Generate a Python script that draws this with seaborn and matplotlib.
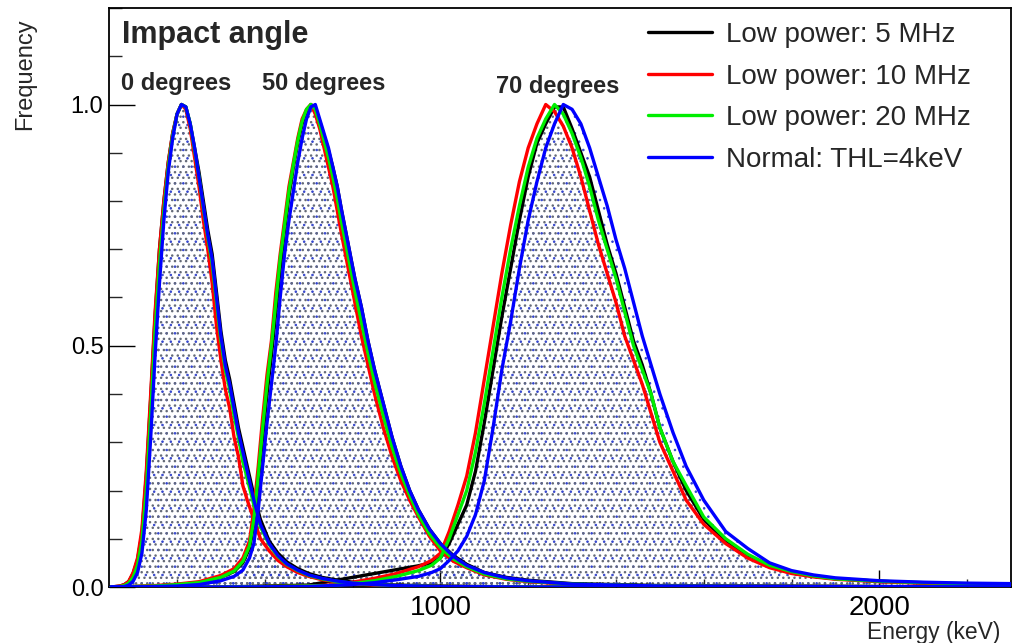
import numpy as np
import pandas as pd
import matplotlib
matplotlib.use("Agg")
import matplotlib.pyplot as plt
from matplotlib.ticker import MultipleLocator, FixedLocator
import seaborn as sns

# ---------------- data ----------------
settings = ["Low power: 5 MHz", "Low power: 10 MHz", "Low power: 20 MHz", "Normal: THL=4keV"]
colors = ["#000000", "#ff0000", "#00ee00", "#0000ff"]
angle_labels = ["0 degrees", "50 degrees", "70 degrees"]

# 0 degrees
energy_0 = [250, 270, 280, 290, 300, 310, 320, 330, 340, 350, 360, 370, 380, 390, 400, 410, 420, 430,
            440, 450, 460, 470, 480, 490, 500, 510, 520, 530, 540, 550, 560, 575, 590, 610, 630, 650,
            675, 700, 730, 760, 800, 850, 900, 1000, 1200, 1600, 2300]
freq_0_5MHz = [0, 0.002, 0.005, 0.011, 0.028, 0.056, 0.11, 0.23, 0.39, 0.56, 0.70, 0.80, 0.88, 0.94, 0.98, 1.0,
               0.995, 0.96, 0.91, 0.86, 0.80, 0.74, 0.69, 0.61, 0.53, 0.47, 0.43, 0.38, 0.33, 0.29, 0.25, 0.19,
               0.14, 0.095, 0.07, 0.052, 0.038, 0.028, 0.02, 0.015, 0.01, 0.006, 0.004, 0.002, 0.0, 0.0, 0.0]
freq_0_10MHz = [0, 0.002, 0.005, 0.012, 0.03, 0.06, 0.12, 0.24, 0.40, 0.57, 0.70, 0.80, 0.88, 0.94, 0.98, 1.0,
                0.99, 0.95, 0.89, 0.83, 0.76, 0.70, 0.63, 0.54, 0.47, 0.41, 0.37, 0.31, 0.27, 0.21, 0.18, 0.14,
                0.10, 0.075, 0.055, 0.042, 0.03, 0.022, 0.015, 0.011, 0.007, 0.004, 0.003, 0.001, 0.0, 0.0, 0.0]
freq_0_20MHz = [0, 0.001, 0.003, 0.008, 0.02, 0.045, 0.095, 0.20, 0.36, 0.53, 0.67, 0.78, 0.87, 0.935, 0.98, 1.0,
                0.995, 0.96, 0.905, 0.85, 0.785, 0.725, 0.67, 0.59, 0.51, 0.45, 0.41, 0.355, 0.31, 0.26, 0.225,
                0.17, 0.125, 0.088, 0.063, 0.047, 0.034, 0.024, 0.017, 0.012, 0.008, 0.005, 0.003, 0.001, 0, 0, 0]
freq_0_normal = [0, 0, 0.001, 0.004, 0.012, 0.03, 0.07, 0.16, 0.31, 0.48, 0.63, 0.76, 0.86, 0.93, 0.98, 1.0,
                 0.995, 0.96, 0.91, 0.85, 0.79, 0.73, 0.68, 0.60, 0.52, 0.46, 0.42, 0.37, 0.32, 0.28, 0.24, 0.18,
                 0.13, 0.09, 0.065, 0.048, 0.035, 0.025, 0.018, 0.013, 0.008, 0.005, 0.003, 0.001, 0.0, 0.0, 0.0]

# 50 degrees
energy_50 = [250, 300, 350, 400, 450, 500, 530, 550, 565, 575, 585, 595, 605, 615, 625, 635, 645, 655, 665,
             675, 685, 695, 705, 715, 725, 735, 745, 755, 765, 775, 790, 805, 820, 835, 850, 870, 890, 910,
             930, 950, 975, 1000, 1030, 1060, 1100, 1150, 1200, 1300, 1500, 2300]
freq_50_5MHz = [0, 0.001, 0.002, 0.005, 0.009, 0.02, 0.032, 0.05, 0.08, 0.13, 0.22, 0.31, 0.40, 0.48, 0.57,
                0.66, 0.74, 0.81, 0.87, 0.92, 0.96, 0.985, 1.0, 0.99, 0.965, 0.935, 0.905, 0.87, 0.83, 0.78,
                0.71, 0.64, 0.58, 0.51, 0.45, 0.38, 0.31, 0.25, 0.20, 0.16, 0.12, 0.09, 0.065, 0.047, 0.03,
                0.02, 0.014, 0.007, 0.003, 0]
freq_50_10MHz = [0, 0.001, 0.003, 0.006, 0.011, 0.024, 0.038, 0.06, 0.095, 0.16, 0.25, 0.35, 0.44, 0.51, 0.61,
                 0.69, 0.76, 0.83, 0.88, 0.93, 0.97, 0.99, 1.0, 0.98, 0.95, 0.91, 0.87, 0.83, 0.78, 0.73,
                 0.66, 0.59, 0.52, 0.46, 0.40, 0.33, 0.27, 0.22, 0.18, 0.145, 0.105, 0.075, 0.053, 0.04,
                 0.025, 0.016, 0.011, 0.005, 0.002, 0]
freq_50_20MHz = [0, 0.001, 0.002, 0.005, 0.009, 0.02, 0.033, 0.053, 0.085, 0.14, 0.23, 0.33, 0.42, 0.50, 0.59,
                 0.68, 0.75, 0.82, 0.875, 0.925, 0.965, 0.99, 1.0, 0.99, 0.96, 0.925, 0.89, 0.85, 0.805, 0.755,
                 0.685, 0.615, 0.55, 0.485, 0.425, 0.355, 0.29, 0.235, 0.19, 0.15, 0.11, 0.082, 0.058, 0.042,
                 0.027, 0.017, 0.012, 0.006, 0.002, 0]
freq_50_normal = [0, 0, 0.001, 0.002, 0.005, 0.013, 0.022, 0.035, 0.06, 0.09, 0.16, 0.25, 0.34, 0.42, 0.50,
                  0.60, 0.69, 0.76, 0.82, 0.88, 0.93, 0.97, 0.995, 1.0, 0.97, 0.94, 0.91, 0.87, 0.83, 0.78,
                  0.71, 0.64, 0.58, 0.51, 0.45, 0.38, 0.31, 0.25, 0.20, 0.16, 0.12, 0.09, 0.063, 0.045, 0.03,
                  0.019, 0.013, 0.006, 0.002, 0]

# 70 degrees
energy_70 = [250, 500, 700, 750, 800, 850, 900, 950, 980, 1000, 1020, 1040, 1060, 1080, 1100, 1120, 1140,
             1160, 1180, 1200, 1220, 1240, 1260, 1280, 1300, 1320, 1340, 1360, 1380, 1400, 1420, 1440, 1460,
             1480, 1500, 1530, 1560, 1600, 1650, 1700, 1750, 1800, 1850, 1900, 2000, 2100, 2200, 2300]
freq_70_5MHz = [0, 0, 0.004, 0.012, 0.02, 0.028, 0.036, 0.044, 0.05, 0.06, 0.09, 0.13, 0.17, 0.24, 0.34, 0.45,
                0.56, 0.66, 0.76, 0.85, 0.92, 0.96, 0.995, 0.995, 0.95, 0.90, 0.85, 0.78, 0.71, 0.65, 0.58,
                0.51, 0.46, 0.40, 0.33, 0.26, 0.20, 0.14, 0.095, 0.065, 0.044, 0.031, 0.022, 0.017, 0.012,
                0.008, 0.006, 0.005]
freq_70_10MHz = [0, 0, 0.002, 0.004, 0.01, 0.018, 0.028, 0.042, 0.055, 0.07, 0.115, 0.17, 0.23, 0.32, 0.43,
                 0.54, 0.65, 0.75, 0.84, 0.91, 0.96, 1.0, 0.985, 0.955, 0.91, 0.85, 0.78, 0.71, 0.65, 0.59,
                 0.52, 0.47, 0.42, 0.36, 0.30, 0.24, 0.18, 0.13, 0.09, 0.06, 0.04, 0.028, 0.021, 0.016, 0.011,
                 0.008, 0.006, 0.005]
freq_70_20MHz = [0, 0, 0.002, 0.003, 0.007, 0.013, 0.022, 0.034, 0.045, 0.06, 0.10, 0.15, 0.20, 0.28, 0.38,
                 0.49, 0.60, 0.70, 0.79, 0.87, 0.93, 0.97, 1.0, 0.98, 0.94, 0.89, 0.83, 0.76, 0.70, 0.64,
                 0.57, 0.50, 0.45, 0.40, 0.33, 0.26, 0.21, 0.145, 0.10, 0.068, 0.045, 0.032, 0.023, 0.017,
                 0.012, 0.009, 0.007, 0.005]
freq_70_normal = [0, 0, 0.001, 0.003, 0.005, 0.009, 0.015, 0.022, 0.03, 0.038, 0.055, 0.075, 0.105, 0.15, 0.22,
                  0.33, 0.45, 0.55, 0.66, 0.76, 0.84, 0.91, 0.96, 1.0, 0.99, 0.96, 0.91, 0.85, 0.79, 0.72,
                  0.66, 0.59, 0.52, 0.46, 0.40, 0.32, 0.25, 0.18, 0.115, 0.08, 0.05, 0.034, 0.025, 0.019,
                  0.013, 0.01, 0.008, 0.007]

x_ticks = [1000, 2000]
x_tick_labels = ["1000", "2000"]
y_ticks = [0.0, 0.5, 1.0]
y_tick_labels = ["0.0", "0.5", "1.0"]

# ---------------- tidy table ----------------
energies = {"0 degrees": energy_0, "50 degrees": energy_50, "70 degrees": energy_70}
freqs = {
    "0 degrees": [freq_0_5MHz, freq_0_10MHz, freq_0_20MHz, freq_0_normal],
    "50 degrees": [freq_50_5MHz, freq_50_10MHz, freq_50_20MHz, freq_50_normal],
    "70 degrees": [freq_70_5MHz, freq_70_10MHz, freq_70_20MHz, freq_70_normal],
}
rows = []
for ang in angle_labels:
    for s, f in zip(settings, freqs[ang]):
        for e, v in zip(energies[ang], f):
            rows.append({"energy": e, "freq": v, "setting": s, "angle": ang})
df = pd.DataFrame(rows)

# ---------------- style ----------------
sns.set_theme(style="white")
plt.rcParams["font.family"] = ["Liberation Sans", "DejaVu Sans"]

fig = plt.figure(figsize=(10.2, 6.43), dpi=100)
ax = fig.add_axes([109 / 1020, 56 / 643, 902 / 1020, 579 / 643])

# dotted fill under the curves
for ang in angle_labels:
    plt.rcParams["hatch.linewidth"] = 0.6
    ax.fill_between(energies[ang], 0, freqs[ang][3], facecolor="none", edgecolor="#3344cc",
                    hatch="..", linewidth=0, zorder=1)
    plt.rcParams["hatch.linewidth"] = 1.0
    ax.fill_between(energies[ang], 0, freqs[ang][0], facecolor="none", edgecolor="#646a78",
                    hatch="...", linewidth=0, zorder=1)

sns.lineplot(data=df, x="energy", y="freq", hue="setting", hue_order=settings, units="angle",
             estimator=None, palette=dict(zip(settings, colors)), linewidth=2.4, ax=ax, zorder=3)

ax.set_xlim(245, 2300)
ax.set_ylim(0, 1.2)
ax.set_xlabel("")
ax.set_ylabel("")

ax.xaxis.set_major_locator(FixedLocator(x_ticks))
ax.set_xticklabels(x_tick_labels)
ax.xaxis.set_minor_locator(MultipleLocator(200))
ax.yaxis.set_major_locator(FixedLocator(y_ticks))
ax.set_yticklabels(y_tick_labels)
ax.yaxis.set_minor_locator(MultipleLocator(0.1))

ax.tick_params(axis="x", which="major", direction="in", length=12, width=1.0, labelsize=20,
               pad=6, color="black", labelcolor="black", bottom=True, top=False)
ax.tick_params(axis="x", which="minor", direction="in", length=6, width=1.0, bottom=True, top=False)
ax.tick_params(axis="y", which="major", direction="in", length=19, width=1.0, labelsize=17,
               pad=4, color="black", labelcolor="black", left=True, right=False)
ax.tick_params(axis="y", which="minor", direction="in", length=9.5, width=1.0, left=True, right=False)
for sp in ax.spines.values():
    sp.set_visible(True)
    sp.set_color("black")
    sp.set_linewidth(1.3)

# legend
handles, labels = ax.get_legend_handles_labels()
ax.legend(handles, labels, loc="upper left", bbox_to_anchor=(0.585, 0.995), frameon=False,
          fontsize=20, handlelength=2.3, handletextpad=0.5, labelspacing=0.56, borderaxespad=0)

# texts
ax.text(0.0144, 0.953, "Impact angle", transform=ax.transAxes, fontsize=22, fontweight="bold",
        va="center", ha="left")
ax.text(0.0133, 0.870, "0 degrees", transform=ax.transAxes, fontsize=17, fontweight="bold",
        va="center", ha="left")
ax.text(0.1696, 0.870, "50 degrees", transform=ax.transAxes, fontsize=17, fontweight="bold",
        va="center", ha="left")
ax.text(0.429, 0.865, "70 degrees", transform=ax.transAxes, fontsize=17, fontweight="bold",
        va="center", ha="left")

fig.text(1000 / 1020, 1 - 632 / 643, "Energy (keV)", fontsize=16.5, ha="right", va="center")
fig.text(25 / 1020, 1 - 18 / 643, "Frequency", fontsize=17, ha="center", va="top", rotation=90)

fig.savefig("out.png", dpi=100)
